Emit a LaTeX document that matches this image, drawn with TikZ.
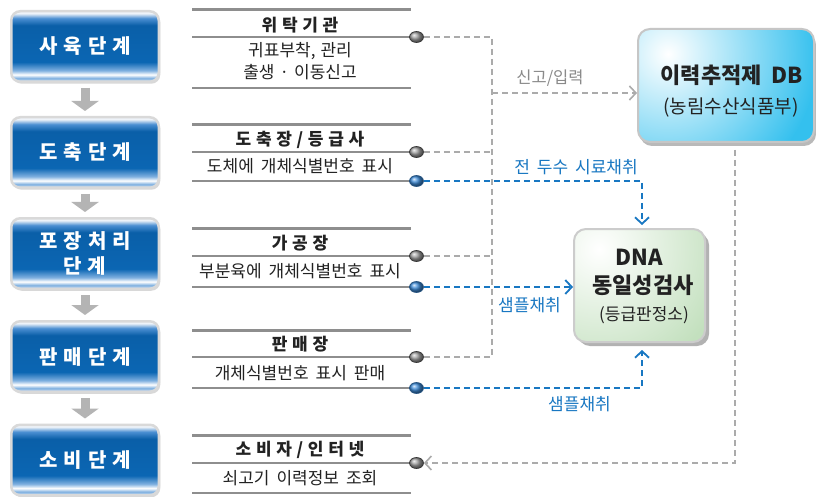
\documentclass[tikz,border=0pt]{standalone}
\usepackage{fontspec}
\setmainfont{Noto Sans CJK KR}
\usetikzlibrary{arrows.meta,shadows,shapes.geometric}
\definecolor{stepblue}{HTML}{0B66B3}
\definecolor{stepdark}{HTML}{0A5FA8}
\definecolor{steplite}{HTML}{7FB0E0}
\definecolor{stepmid}{HTML}{4B8FD2}
\definecolor{stepbot}{HTML}{DCE6F1}
\definecolor{steptop}{HTML}{EEF3F9}
\definecolor{rulegray}{HTML}{8E8E8E}
\definecolor{dashgray}{HTML}{ABABAB}
\definecolor{dashblue}{HTML}{1877C2}
\definecolor{dbcyan}{HTML}{34C0EE}
\definecolor{dnagreen}{HTML}{C3E0BE}
\definecolor{dotblue}{HTML}{3F8CD8}
\definecolor{labgray}{HTML}{8A8A8A}
\definecolor{arrowgray}{HTML}{B4B4B4}
\definecolor{txt}{HTML}{222222}
\newcommand{\spaced}[2]{{\spaceskip=#1\relax #2}}
\pgfdeclareverticalshading{stepshade}{100bp}{%
 color(0bp)=(stepbot); color(25bp)=(stepbot); color(27.5bp)=(steplite);
 color(30bp)=(white); color(33bp)=(steplite); color(39bp)=(stepblue);
 color(65bp)=(stepdark); color(70bp)=(stepmid); color(73.5bp)=(steptop);
 color(75bp)=(steptop); color(100bp)=(steptop)}
\tikzset{
 stagebox/.style={rounded corners=9pt, draw=gray!30, line width=2.5pt, shading=stepshade,
   minimum width=147.5pt, minimum height=70.5pt, inner sep=0pt, text=white, align=center,
   font=\fontsize{20}{25}\selectfont\bfseries,
   drop shadow={shadow xshift=1.5pt,shadow yshift=-2pt,fill=gray!50,opacity=0.6}},
 downarrow/.style={line width=9pt, draw=arrowgray, -{Triangle[length=10pt,width=27pt]}},
 thickrule/.style={line width=3pt, rulegray},
 thinrule/.style={line width=1.1pt, rulegray},
 ptitle/.style={font=\fontsize{17}{20}\selectfont\bfseries, text=txt, inner sep=0pt},
 ptext/.style={font=\fontsize{17}{22}\selectfont, text=txt, inner sep=0pt, align=center},
 gdot/.style={ellipse, minimum width=14pt, minimum height=11pt, inner sep=0pt, draw=gray!40!black, line width=0.7pt, ball color=gray!75},
 bdot/.style={gdot, ball color=dotblue, draw=dotblue!60!black},
 gdash/.style={dashgray, line width=1.6pt, dash pattern=on 6pt off 4pt},
 bdash/.style={dashblue, line width=1.8pt, dash pattern=on 6pt off 4pt},
 tipg/.style={-{Straight Barb[length=6.5pt,width=14pt]}},
 glabel/.style={font=\fontsize{16.5}{19}\selectfont, text=labgray, inner sep=0pt},
 blabel/.style={font=\fontsize{17}{19}\selectfont, text=dashblue, inner sep=0pt},
 dbbox/.style={rounded corners=12pt, draw=gray!45, line width=2pt, fill=dbcyan, minimum width=176pt, minimum height=113pt,
   drop shadow={shadow xshift=2pt, shadow yshift=-4pt, fill=gray!55, opacity=1},
   path picture={\shade[inner color=white, outer color=dbcyan] ([xshift=30pt,yshift=-25pt]path picture bounding box.north west) circle (150pt);}},
 dnabox/.style={rounded corners=12pt, draw=gray!40, line width=2pt, fill=dnagreen, minimum width=131pt, minimum height=113pt,
   drop shadow={shadow xshift=4pt, shadow yshift=-4pt, fill=gray!60, opacity=1},
   path picture={\shade[inner color=white, outer color=dnagreen] ([xshift=25pt,yshift=-20pt]path picture bounding box.north west) circle (130pt);}},
}
\begin{document}
\begin{tikzpicture}[x=1pt,y=-1pt]
\useasboundingbox[fill=white] (0,0) rectangle (816,497);
% stage boxes
\node[stagebox] (s1) at (85,46.5) {\spaced{6pt}{사 육 단 계}};
\node[stagebox] (s2) at (85,152.5) {\spaced{6pt}{도 축 단 계}};
\node[stagebox] (s3) at (85,253.5) {\spaced{6pt}{포 장 처 리}\\\spaced{6pt}{단 계}};
\node[stagebox] (s4) at (85,356.5) {\spaced{6pt}{판 매 단 계}};
\node[stagebox] (s5) at (85,460) {\spaced{6pt}{소 비 단 계}};
\draw[downarrow] ([yshift=-5pt]s1.south) -- ([yshift=5pt]s2.north);
\draw[downarrow] ([yshift=-5pt]s2.south) -- ([yshift=5pt]s3.north);
\draw[downarrow] ([yshift=-5pt]s3.south) -- ([yshift=5pt]s4.north);
\draw[downarrow] ([yshift=-5pt]s4.south) -- ([yshift=5pt]s5.north);
% panel 1
\draw[thickrule] (192,10) -- (411,10);
\node[ptitle] (t1) at (300,25) {\spaced{4.7pt}{위 탁 기 관}};
\node[gdot] (g1) at (416.5,37) {};
\draw[thinrule] (192,37) -- (g1.west);
\node[ptext] (d1) at (300,61) {\spaced{5pt}{귀표부착, 관리}\\\spaced{5pt}{출생 · 이동신고}};
\draw[thinrule] (192,88) -- (411,88);
% panel 2
\draw[thickrule] (192,125) -- (411,125);
\node[ptitle] (t2) at (300,140) {\spaced{4.7pt}{도 축 장 / 등 급 사}};
\node[gdot] (g2) at (416.5,152) {};
\draw[thinrule] (192,152) -- (g2.west);
\node[ptext] (d2) at (300,166) {\spaced{7pt}{도체에 개체식별번호 표시}};
\node[bdot] (b2) at (416.5,181) {};
\draw[thinrule] (192,181) -- (b2.west);
% panel 3
\draw[thickrule] (192,228) -- (411,228);
\node[ptitle] (t3) at (300,243) {\spaced{4.7pt}{가 공 장}};
\node[gdot] (g3) at (416.5,256) {};
\draw[thinrule] (192,256) -- (g3.west);
\node[ptext] (d3) at (300,271) {\spaced{7pt}{부분육에 개체식별번호 표시}};
\node[bdot] (b3) at (416.5,287) {};
\draw[thinrule] (192,287) -- (b3.west);
% panel 4
\draw[thickrule] (192,330) -- (411,330);
\node[ptitle] (t4) at (300,344) {\spaced{4.7pt}{판 매 장}};
\node[gdot] (g4) at (416.5,357) {};
\draw[thinrule] (192,357) -- (g4.west);
\node[ptext] (d4) at (300,373) {\spaced{7pt}{개체식별번호 표시 판매}};
\node[bdot] (b4) at (416.5,388) {};
\draw[thinrule] (192,388) -- (b4.west);
% panel 5
\draw[thickrule] (192,435) -- (411,435);
\node[ptitle] (t5) at (300,450) {\spaced{4.7pt}{소 비 자 / 인 터 넷}};
\node[gdot] (g5) at (416.5,463) {};
\draw[thinrule] (192,463) -- (g5.west);
\node[ptext] (d5) at (300,478) {\spaced{7pt}{쇠고기 이력정보 조회}};
\draw[thinrule] (192,493) -- (411,493);
% DB box
\node[dbbox] (db) at (726,85.5) {};
\node[font=\fontsize{22}{25}\selectfont\bfseries, text=txt, inner sep=0pt] (dbt) at (732,75) {이력추적제\hspace{10pt}DB};
\node[font=\fontsize{19}{22}\selectfont, text=txt, inner sep=0pt] (dbs) at (731,108) {(농림수산식품부)};
% DNA box
\node[dnabox] (dna) at (639.5,285.5) {};
\node[font=\fontsize{22}{26}\selectfont\bfseries, text=txt, inner sep=0pt] (dnat1) at (639,257) {DNA};
\node[font=\fontsize{22}{26}\selectfont\bfseries, text=txt, inner sep=0pt] (dnat2) at (643,285) {동일성검사};
\node[font=\fontsize{17}{20}\selectfont, text=txt, inner sep=0pt] (dnat3) at (644,315) {(등급판정소)};
% gray dashed connectors
\coordinate (jtop) at (492,37);
\coordinate (jbot) at (492,357);
\coordinate (jin) at (492,93);
\draw[gdash] (g1.east) -- (jtop) -- (jbot) -- (g4.east);
\draw[gdash] (g2.east) -- (g2.east -| jtop);
\draw[gdash] (g3.east) -- (g3.east -| jtop);
\draw[gdash, tipg] (jin) -- (jin -| db.west);
\coordinate (dbo) at (735,150);
\coordinate (dbc) at (735,463);
\draw[gdash, tipg] (dbo) -- (dbc) -- (g5.east);
% blue dashed connectors
\coordinate (dnat) at (642,225);
\coordinate (dnab) at (642,350);
\draw[bdash, tipg] (b2.east) -- (b2.east -| dnat) -- (dnat);
\draw[bdash, tipg] (b3.east) -- (b3.east -| dna.west);
\draw[bdash, tipg] (b4.east) -- (b4.east -| dnab) -- (dnab);
% labels
\node[glabel] (lab1) at (550,78) {신고/입력};
\node[blabel] (lab2) at (576,167) {\spaced{7pt}{전 두수 시료채취}};
\node[blabel] (lab3) at (529.5,305) {샘플채취};
\node[blabel] (lab4) at (579.5,404) {샘플채취};
\end{tikzpicture}
\end{document}
